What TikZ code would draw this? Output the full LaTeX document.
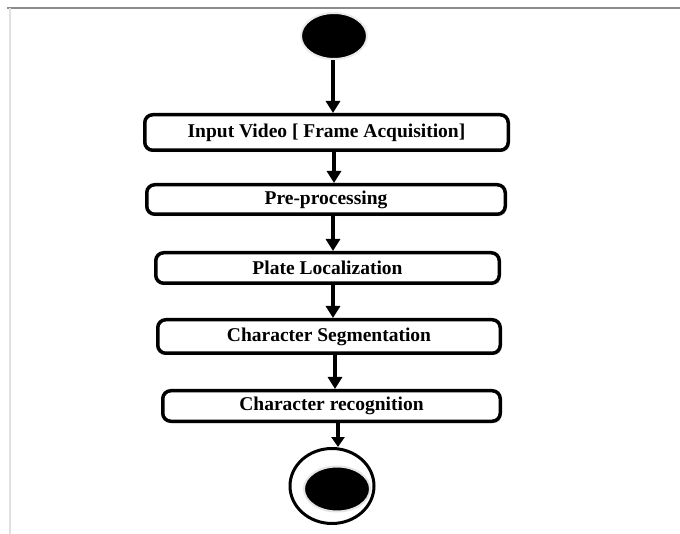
\documentclass[tikz,border=0pt]{standalone}
\usepackage{fontspec}
\setmainfont{Liberation Serif}
\usetikzlibrary{arrows.meta,shapes.geometric,shadows}
\begin{document}
\begin{tikzpicture}[x=1pt,y=-1pt,
  stepbox/.style={draw=black, line width=3.5pt, rounded corners=8pt, fill=white,
    inner sep=0pt, font=\fontsize{19.5}{21}\selectfont\bfseries,
    drop shadow={shadow xshift=1.5pt, shadow yshift=-1.8pt, fill=black!30, opacity=0.6}},
  flow/.style={line width=4pt, -{Triangle[width=14pt,length=12pt]}},
  frame/.style={line width=2pt}
]
\useasboundingbox (0,0) rectangle (680,534);
\fill[white] (0,0) rectangle (680,534);
% frame lines
\coordinate (tl) at (7,8);
\coordinate (tr) at (680,8);
\coordinate (bl) at (9.5,534);
\draw[frame, draw=black!45] (tl) -- (tr);
\draw[frame, draw=black!12] (bl |- tl) -- (bl);

% start
\node[ellipse, fill=black, draw=black!8, line width=2pt, minimum width=66pt, minimum height=46pt, inner sep=0pt] (start) at (334,36) {};

% boxes
\node[stepbox, minimum width=363.5pt, minimum height=35.5pt] (b1) at (326.5,132.5) {Input Video [ Frame Acquisition]};
\node[stepbox, minimum width=358.5pt, minimum height=29.5pt] (b2) at (326,199.5) {Pre-processing};
\node[stepbox, minimum width=343.5pt, minimum height=30.5pt] (b3) at (327.5,268) {Plate Localization};
\node[stepbox, minimum width=342.5pt, minimum height=33.5pt] (b4) at (329,336.5) {Character Segmentation};
\node[stepbox, minimum width=337.5pt, minimum height=30.5pt] (b5) at (331.5,406) {Character recognition};

% end
\node[ellipse, draw=black, line width=3pt, fill=white, minimum width=84pt, minimum height=75pt, inner sep=0pt] (endo) at (332,486) {};
\node[ellipse, fill=black, draw=black!10, line width=2pt, minimum width=66pt, minimum height=45pt, inner sep=0pt] (endi) at (337,489) {};

% arrows
\coordinate (x1) at (333,0);
\coordinate (x2) at (334,0);
\coordinate (x3) at (333,0);
\coordinate (x4) at (333,0);
\coordinate (x5) at (335,0);
\coordinate (x6) at (338,0);
\draw[flow] (start.south -| x1) -- (b1.north -| x1);
\draw[flow] (b1.south -| x2) -- (b2.north -| x2);
\draw[flow] (b2.south -| x3) -- (b3.north -| x3);
\draw[flow] (b3.south -| x4) -- (b4.north -| x4);
\draw[flow] (b4.south -| x5) -- (b5.north -| x5);
\draw[flow, -{Triangle[width=13pt,length=10pt]}] (b5.south -| x6) -- (endo.north -| x6);
\end{tikzpicture}
\end{document}
